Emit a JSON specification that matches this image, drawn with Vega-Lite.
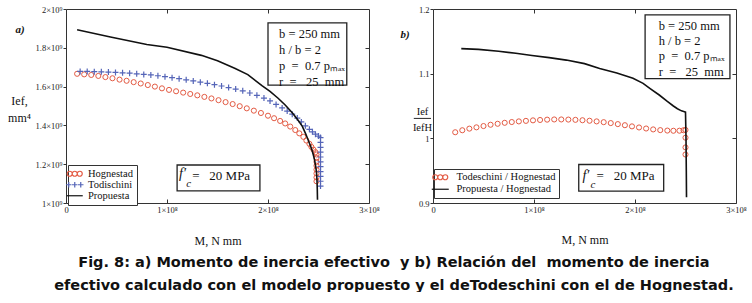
{
  "$schema": "https://vega.github.io/schema/vega-lite/v6.json",
  "background": "white",
  "padding": {"left": 7, "top": 4, "right": 0, "bottom": 0},
  "bounds": "flush",
  "spacing": 64,
  "config": {
    "view": {"stroke": "#333", "strokeWidth": 1},
    "font": "Liberation Serif",
    "axis": {"grid": false, "domain": false, "labelFont": "Liberation Serif", "labelFontSize": 8.5, "labelColor": "#222", "tickColor": "#333", "labelFlush": false, "labelOverlap": false, "titleFont": "Liberation Serif", "titleFontWeight": "normal", "titleFontSize": 12, "titleColor": "#111"},
    "legend": {"labelFont": "Liberation Serif", "labelFontSize": 10.5, "labelColor": "#111"}
  },
  "title": {
    "text": ["Fig. 8: a) Momento de inercia efectivo\u00a0 y b) Relación del\u00a0 momento de inercia", "efectivo calculado con el modelo propuesto y el deTodeschini con el de Hognestad."],
    "orient": "bottom", "anchor": "middle", "font": "DejaVu Sans", "fontSize": 14.5, "fontWeight": "bold", "lineHeight": 23, "offset": 9, "dx": 17, "color": "#111"
  },
  "resolve": {"scale": {"color": "independent", "shape": "independent"}, "legend": {"color": "independent", "shape": "independent"}},
  "datasets": {
    "left": [
      {"series": "Hognestad", "M": 0.11e8, "I": 1.666e9},
      {"series": "Hognestad", "M": 0.18e8, "I": 1.663e9},
      {"series": "Hognestad", "M": 0.25e8, "I": 1.660e9},
      {"series": "Hognestad", "M": 0.32e8, "I": 1.655e9},
      {"series": "Hognestad", "M": 0.39e8, "I": 1.649e9},
      {"series": "Hognestad", "M": 0.46e8, "I": 1.643e9},
      {"series": "Hognestad", "M": 0.53e8, "I": 1.636e9},
      {"series": "Hognestad", "M": 0.60e8, "I": 1.630e9},
      {"series": "Hognestad", "M": 0.67e8, "I": 1.623e9},
      {"series": "Hognestad", "M": 0.74e8, "I": 1.616e9},
      {"series": "Hognestad", "M": 0.81e8, "I": 1.608e9},
      {"series": "Hognestad", "M": 0.88e8, "I": 1.600e9},
      {"series": "Hognestad", "M": 0.95e8, "I": 1.591e9},
      {"series": "Hognestad", "M": 1.02e8, "I": 1.583e9},
      {"series": "Hognestad", "M": 1.09e8, "I": 1.576e9},
      {"series": "Hognestad", "M": 1.16e8, "I": 1.569e9},
      {"series": "Hognestad", "M": 1.23e8, "I": 1.562e9},
      {"series": "Hognestad", "M": 1.30e8, "I": 1.555e9},
      {"series": "Hognestad", "M": 1.37e8, "I": 1.547e9},
      {"series": "Hognestad", "M": 1.44e8, "I": 1.539e9},
      {"series": "Hognestad", "M": 1.51e8, "I": 1.530e9},
      {"series": "Hognestad", "M": 1.58e8, "I": 1.520e9},
      {"series": "Hognestad", "M": 1.65e8, "I": 1.510e9},
      {"series": "Hognestad", "M": 1.72e8, "I": 1.499e9},
      {"series": "Hognestad", "M": 1.79e8, "I": 1.488e9},
      {"series": "Hognestad", "M": 1.86e8, "I": 1.476e9},
      {"series": "Hognestad", "M": 1.93e8, "I": 1.464e9},
      {"series": "Hognestad", "M": 2.00e8, "I": 1.450e9},
      {"series": "Hognestad", "M": 2.06e8, "I": 1.437e9},
      {"series": "Hognestad", "M": 2.12e8, "I": 1.423e9},
      {"series": "Hognestad", "M": 2.17e8, "I": 1.410e9},
      {"series": "Hognestad", "M": 2.22e8, "I": 1.394e9},
      {"series": "Hognestad", "M": 2.27e8, "I": 1.376e9},
      {"series": "Hognestad", "M": 2.31e8, "I": 1.359e9},
      {"series": "Hognestad", "M": 2.35e8, "I": 1.341e9},
      {"series": "Hognestad", "M": 2.38e8, "I": 1.322e9},
      {"series": "Hognestad", "M": 2.41e8, "I": 1.305e9},
      {"series": "Hognestad", "M": 2.43e8, "I": 1.289e9},
      {"series": "Hognestad", "M": 2.45e8, "I": 1.275e9},
      {"series": "Hognestad", "M": 2.47e8, "I": 1.262e9},
      {"series": "Hognestad", "M": 2.48e8, "I": 1.250e9},
      {"series": "Hognestad", "M": 2.48e8, "I": 1.232e9},
      {"series": "Hognestad", "M": 2.48e8, "I": 1.212e9},
      {"series": "Hognestad", "M": 2.48e8, "I": 1.192e9},
      {"series": "Hognestad", "M": 2.48e8, "I": 1.172e9},
      {"series": "Hognestad", "M": 2.48e8, "I": 1.152e9},
      {"series": "Hognestad", "M": 2.48e8, "I": 1.132e9},
      {"series": "Hognestad", "M": 2.48e8, "I": 1.112e9},
      {"series": "Todischini", "M": 0.14e8, "I": 1.678e9},
      {"series": "Todischini", "M": 0.21e8, "I": 1.678e9},
      {"series": "Todischini", "M": 0.28e8, "I": 1.677e9},
      {"series": "Todischini", "M": 0.35e8, "I": 1.676e9},
      {"series": "Todischini", "M": 0.42e8, "I": 1.675e9},
      {"series": "Todischini", "M": 0.49e8, "I": 1.673e9},
      {"series": "Todischini", "M": 0.56e8, "I": 1.671e9},
      {"series": "Todischini", "M": 0.63e8, "I": 1.669e9},
      {"series": "Todischini", "M": 0.70e8, "I": 1.666e9},
      {"series": "Todischini", "M": 0.77e8, "I": 1.663e9},
      {"series": "Todischini", "M": 0.84e8, "I": 1.660e9},
      {"series": "Todischini", "M": 0.91e8, "I": 1.656e9},
      {"series": "Todischini", "M": 0.98e8, "I": 1.651e9},
      {"series": "Todischini", "M": 1.05e8, "I": 1.646e9},
      {"series": "Todischini", "M": 1.12e8, "I": 1.641e9},
      {"series": "Todischini", "M": 1.19e8, "I": 1.635e9},
      {"series": "Todischini", "M": 1.26e8, "I": 1.629e9},
      {"series": "Todischini", "M": 1.33e8, "I": 1.623e9},
      {"series": "Todischini", "M": 1.40e8, "I": 1.617e9},
      {"series": "Todischini", "M": 1.47e8, "I": 1.610e9},
      {"series": "Todischini", "M": 1.54e8, "I": 1.603e9},
      {"series": "Todischini", "M": 1.61e8, "I": 1.595e9},
      {"series": "Todischini", "M": 1.68e8, "I": 1.587e9},
      {"series": "Todischini", "M": 1.75e8, "I": 1.578e9},
      {"series": "Todischini", "M": 1.82e8, "I": 1.567e9},
      {"series": "Todischini", "M": 1.89e8, "I": 1.555e9},
      {"series": "Todischini", "M": 1.96e8, "I": 1.541e9},
      {"series": "Todischini", "M": 2.02e8, "I": 1.526e9},
      {"series": "Todischini", "M": 2.08e8, "I": 1.508e9},
      {"series": "Todischini", "M": 2.14e8, "I": 1.490e9},
      {"series": "Todischini", "M": 2.19e8, "I": 1.474e9},
      {"series": "Todischini", "M": 2.24e8, "I": 1.458e9},
      {"series": "Todischini", "M": 2.29e8, "I": 1.438e9},
      {"series": "Todischini", "M": 2.33e8, "I": 1.418e9},
      {"series": "Todischini", "M": 2.37e8, "I": 1.398e9},
      {"series": "Todischini", "M": 2.41e8, "I": 1.380e9},
      {"series": "Todischini", "M": 2.44e8, "I": 1.367e9},
      {"series": "Todischini", "M": 2.47e8, "I": 1.355e9},
      {"series": "Todischini", "M": 2.50e8, "I": 1.345e9},
      {"series": "Todischini", "M": 2.52e8, "I": 1.337e9},
      {"series": "Todischini", "M": 2.52e8, "I": 1.312e9},
      {"series": "Todischini", "M": 2.52e8, "I": 1.287e9},
      {"series": "Todischini", "M": 2.52e8, "I": 1.262e9},
      {"series": "Todischini", "M": 2.52e8, "I": 1.237e9},
      {"series": "Todischini", "M": 2.52e8, "I": 1.212e9},
      {"series": "Todischini", "M": 2.52e8, "I": 1.187e9},
      {"series": "Todischini", "M": 2.52e8, "I": 1.162e9},
      {"series": "Todischini", "M": 2.52e8, "I": 1.137e9},
      {"series": "Todischini", "M": 2.52e8, "I": 1.112e9},
      {"series": "Todischini", "M": 2.52e8, "I": 1.087e9},
      {"series": "Propuesta", "M": 0.11e8, "I": 1.893e9},
      {"series": "Propuesta", "M": 0.44e8, "I": 1.856e9},
      {"series": "Propuesta", "M": 0.80e8, "I": 1.817e9},
      {"series": "Propuesta", "M": 1.00e8, "I": 1.803e9},
      {"series": "Propuesta", "M": 1.34e8, "I": 1.761e9},
      {"series": "Propuesta", "M": 1.50e8, "I": 1.733e9},
      {"series": "Propuesta", "M": 1.67e8, "I": 1.695e9},
      {"series": "Propuesta", "M": 1.80e8, "I": 1.662e9},
      {"series": "Propuesta", "M": 1.94e8, "I": 1.605e9},
      {"series": "Propuesta", "M": 2.02e8, "I": 1.575e9},
      {"series": "Propuesta", "M": 2.10e8, "I": 1.540e9},
      {"series": "Propuesta", "M": 2.17e8, "I": 1.505e9},
      {"series": "Propuesta", "M": 2.24e8, "I": 1.465e9},
      {"series": "Propuesta", "M": 2.30e8, "I": 1.425e9},
      {"series": "Propuesta", "M": 2.34e8, "I": 1.395e9},
      {"series": "Propuesta", "M": 2.37e8, "I": 1.360e9},
      {"series": "Propuesta", "M": 2.39e8, "I": 1.335e9},
      {"series": "Propuesta", "M": 2.42e8, "I": 1.295e9},
      {"series": "Propuesta", "M": 2.44e8, "I": 1.265e9},
      {"series": "Propuesta", "M": 2.46e8, "I": 1.225e9},
      {"series": "Propuesta", "M": 2.47e8, "I": 1.195e9},
      {"series": "Propuesta", "M": 2.48e8, "I": 1.160e9},
      {"series": "Propuesta", "M": 2.485e8, "I": 1.120e9},
      {"series": "Propuesta", "M": 2.488e8, "I": 1.070e9},
      {"series": "Propuesta", "M": 2.49e8, "I": 1.017e9}
    ],
    "right": [
      {"series": "Todeschini / Hognestad", "M": 0.22e8, "R": 1.0094},
      {"series": "Todeschini / Hognestad", "M": 0.29e8, "R": 1.0125},
      {"series": "Todeschini / Hognestad", "M": 0.36e8, "R": 1.015},
      {"series": "Todeschini / Hognestad", "M": 0.43e8, "R": 1.017},
      {"series": "Todeschini / Hognestad", "M": 0.50e8, "R": 1.019},
      {"series": "Todeschini / Hognestad", "M": 0.57e8, "R": 1.021},
      {"series": "Todeschini / Hognestad", "M": 0.64e8, "R": 1.0225},
      {"series": "Todeschini / Hognestad", "M": 0.71e8, "R": 1.024},
      {"series": "Todeschini / Hognestad", "M": 0.78e8, "R": 1.0252},
      {"series": "Todeschini / Hognestad", "M": 0.85e8, "R": 1.0262},
      {"series": "Todeschini / Hognestad", "M": 0.92e8, "R": 1.027},
      {"series": "Todeschini / Hognestad", "M": 0.99e8, "R": 1.0278},
      {"series": "Todeschini / Hognestad", "M": 1.06e8, "R": 1.0284},
      {"series": "Todeschini / Hognestad", "M": 1.13e8, "R": 1.0289},
      {"series": "Todeschini / Hognestad", "M": 1.20e8, "R": 1.0292},
      {"series": "Todeschini / Hognestad", "M": 1.27e8, "R": 1.0292},
      {"series": "Todeschini / Hognestad", "M": 1.34e8, "R": 1.029},
      {"series": "Todeschini / Hognestad", "M": 1.41e8, "R": 1.0286},
      {"series": "Todeschini / Hognestad", "M": 1.48e8, "R": 1.028},
      {"series": "Todeschini / Hognestad", "M": 1.55e8, "R": 1.0272},
      {"series": "Todeschini / Hognestad", "M": 1.62e8, "R": 1.0262},
      {"series": "Todeschini / Hognestad", "M": 1.69e8, "R": 1.025},
      {"series": "Todeschini / Hognestad", "M": 1.76e8, "R": 1.0236},
      {"series": "Todeschini / Hognestad", "M": 1.83e8, "R": 1.022},
      {"series": "Todeschini / Hognestad", "M": 1.90e8, "R": 1.0203},
      {"series": "Todeschini / Hognestad", "M": 1.97e8, "R": 1.0185},
      {"series": "Todeschini / Hognestad", "M": 2.04e8, "R": 1.0168},
      {"series": "Todeschini / Hognestad", "M": 2.11e8, "R": 1.0152},
      {"series": "Todeschini / Hognestad", "M": 2.18e8, "R": 1.0138},
      {"series": "Todeschini / Hognestad", "M": 2.25e8, "R": 1.0127},
      {"series": "Todeschini / Hognestad", "M": 2.32e8, "R": 1.012},
      {"series": "Todeschini / Hognestad", "M": 2.38e8, "R": 1.0117},
      {"series": "Todeschini / Hognestad", "M": 2.44e8, "R": 1.0118},
      {"series": "Todeschini / Hognestad", "M": 2.48e8, "R": 1.0125},
      {"series": "Todeschini / Hognestad", "M": 2.50e8, "R": 1.013},
      {"series": "Todeschini / Hognestad", "M": 2.50e8, "R": 1.001},
      {"series": "Todeschini / Hognestad", "M": 2.50e8, "R": 0.986},
      {"series": "Todeschini / Hognestad", "M": 2.50e8, "R": 0.975},
      {"series": "Propuesta / Hognestad", "M": 0.28e8, "R": 1.1387},
      {"series": "Propuesta / Hognestad", "M": 0.45e8, "R": 1.1375},
      {"series": "Propuesta / Hognestad", "M": 0.65e8, "R": 1.1346},
      {"series": "Propuesta / Hognestad", "M": 0.82e8, "R": 1.1315},
      {"series": "Propuesta / Hognestad", "M": 0.98e8, "R": 1.128},
      {"series": "Propuesta / Hognestad", "M": 1.15e8, "R": 1.1248},
      {"series": "Propuesta / Hognestad", "M": 1.32e8, "R": 1.121},
      {"series": "Propuesta / Hognestad", "M": 1.50e8, "R": 1.1155},
      {"series": "Propuesta / Hognestad", "M": 1.65e8, "R": 1.108},
      {"series": "Propuesta / Hognestad", "M": 1.82e8, "R": 1.101},
      {"series": "Propuesta / Hognestad", "M": 1.98e8, "R": 1.093},
      {"series": "Propuesta / Hognestad", "M": 2.08e8, "R": 1.085},
      {"series": "Propuesta / Hognestad", "M": 2.15e8, "R": 1.077},
      {"series": "Propuesta / Hognestad", "M": 2.24e8, "R": 1.067},
      {"series": "Propuesta / Hognestad", "M": 2.32e8, "R": 1.057},
      {"series": "Propuesta / Hognestad", "M": 2.38e8, "R": 1.050},
      {"series": "Propuesta / Hognestad", "M": 2.42e8, "R": 1.0457},
      {"series": "Propuesta / Hognestad", "M": 2.46e8, "R": 1.0425},
      {"series": "Propuesta / Hognestad", "M": 2.49e8, "R": 1.041},
      {"series": "Propuesta / Hognestad", "M": 2.50e8, "R": 1.0405},
      {"series": "Propuesta / Hognestad", "M": 2.505e8, "R": 1.00},
      {"series": "Propuesta / Hognestad", "M": 2.508e8, "R": 0.95},
      {"series": "Propuesta / Hognestad", "M": 2.51e8, "R": 0.909}
    ]
  },
  "hconcat": [
    {
      "width": 303,
      "height": 194,
      "data": {"name": "left"},
      "resolve": {"axis": {"x": "independent", "y": "independent"}},
      "layer": [
        {
          "transform": [{"filter": "datum.series == 'Hognestad'"}],
          "mark": {"type": "point", "shape": "circle", "filled": false, "color": "#e35b44", "strokeWidth": 1, "size": 26, "opacity": 1},
          "encoding": {
            "x": {"field": "M", "type": "quantitative", "scale": {"domain": [0, 3e8], "nice": false, "zero": false},
              "axis": {"orient": "bottom", "values": [0, 1e8, 2e8, 3e8], "labelExpr": "datum.value == 0 ? '0' : format(datum.value/1e8,'~g') + '×10⁸'", "tickSize": -4, "labelPadding": 6, "title": "M, N mm", "titleY": 37, "titleBaseline": "middle"}},
            "y": {"field": "I", "type": "quantitative", "scale": {"domain": [1e9, 2e9], "nice": false, "zero": false},
              "axis": {"orient": "left", "values": [1e9, 1.2e9, 1.4e9, 1.6e9, 1.8e9, 2e9], "labelExpr": "format(datum.value/1e9,'~g') + '×10⁹'", "tickSize": 3, "labelPadding": 1, "title": ["Ief,", "mm⁴"], "titleAngle": 0, "titleAlign": "center", "titleBaseline": "top", "titleX": -47, "titleY": 86, "titleLineHeight": 17}}
          }
        },
        {
          "transform": [{"filter": "datum.series == 'Todischini'"}],
          "mark": {"type": "point", "shape": "M-1,0H1M0,-1V1", "filled": false, "color": "#5565b8", "strokeWidth": 1.2, "size": 36, "opacity": 1},
          "encoding": {
            "x": {"field": "M", "type": "quantitative", "axis": {"orient": "top", "values": [1e8, 2e8], "labels": false, "tickSize": -4, "title": null}},
            "y": {"field": "I", "type": "quantitative", "axis": {"orient": "right", "values": [1.2e9, 1.4e9, 1.6e9, 1.8e9], "labels": false, "tickSize": -4, "title": null}}
          }
        },
        {
          "transform": [{"filter": "datum.series == 'Propuesta'"}],
          "mark": {"type": "line", "color": "#111", "strokeWidth": 1.6},
          "encoding": {
            "x": {"field": "M", "type": "quantitative", "axis": null},
            "y": {"field": "I", "type": "quantitative", "axis": null}
          }
        },
        {
          "transform": [{"filter": "false"}],
          "mark": {"type": "point", "filled": false, "strokeWidth": 1, "opacity": 1},
          "encoding": {
            "color": {"field": "series", "type": "nominal",
              "scale": {"domain": ["Hognestad", "Todischini", "Propuesta"], "range": ["#e35b44", "#5565b8", "#111111"]},
              "legend": {"title": null, "orient": "none", "legendX": 2, "legendY": 156, "strokeColor": "#333", "fillColor": "white", "padding": 3.5, "rowPadding": 0, "symbolSize": 25, "symbolStrokeWidth": 1.2, "symbolOffset": -2, "labelOffset": 8}},
            "shape": {"field": "series", "type": "nominal",
              "scale": {"domain": ["Hognestad", "Todischini", "Propuesta"], "range": [
                "M-1,0C-1,0.552 -1.448,1 -2,1C-2.552,1 -3,0.552 -3,0C-3,-0.552 -2.552,-1 -2,-1C-1.448,-1 -1,-0.552 -1,0ZM1,0C1,0.552 0.552,1 0,1C-0.552,1 -1,0.552 -1,0C-1,-0.552 -0.552,-1 0,-1C0.552,-1 1,-0.552 1,0ZM3,0C3,0.552 2.552,1 2,1C1.448,1 1,0.552 1,0C1,-0.552 1.448,-1 2,-1C2.552,-1 3,-0.552 3,0Z",
                "M-3.5,0H-1.3M-2.4,-1.1V1.1M-1.1,0H1.1M0,-1.1V1.1M1.3,0H3.5M2.4,-1.1V1.1",
                "M-3.2,0H3.2"]},
              "legend": {"title": null, "orient": "none", "legendX": 2, "legendY": 156, "strokeColor": "#333", "fillColor": "white", "padding": 3.5, "rowPadding": 0, "symbolSize": 25, "symbolStrokeWidth": 1.2, "symbolOffset": -2, "labelOffset": 8}}
          }
        },
        {
          "data": {"values": [{}]},
          "mark": {"type": "rect", "fill": "white", "stroke": "#222", "strokeWidth": 1.3},
          "encoding": {
            "x": {"datum": 2.0e8, "type": "quantitative", "axis": null},
            "x2": {"datum": 2.78e8},
            "y": {"datum": 1.928e9, "type": "quantitative", "axis": null},
            "y2": {"datum": 1.608e9}
          }
        },
        {
          "data": {"values": [{}]},
          "mark": {"type": "text", "align": "left", "baseline": "top", "font": "Liberation Serif", "fontSize": 12.5, "lineHeight": 16, "color": "#111",
            "text": ["b = 250 mm", "\u00a0h / b = 2", "\u00a0p\u00a0 =\u00a0 0.7 pₘₐₓ", "\u00a0r\u00a0 =\u00a0\u00a0 25\u00a0 mm"]},
          "encoding": {
            "x": {"datum": 2.11e8, "type": "quantitative", "axis": null},
            "y": {"datum": 1.902e9, "type": "quantitative", "axis": null}
          }
        },
        {
          "data": {"values": [{}]},
          "mark": {"type": "rect", "fill": "white", "stroke": "#222", "strokeWidth": 1.3},
          "encoding": {
            "x": {"datum": 1.10e8, "type": "quantitative", "axis": null},
            "x2": {"datum": 1.92e8},
            "y": {"datum": 1.196e9, "type": "quantitative", "axis": null},
            "y2": {"datum": 1.062e9}
          }
        },
        {
          "data": {"values": [{}]},
          "mark": {"type": "text", "align": "left", "baseline": "middle", "font": "Liberation Serif", "fontSize": 14, "fontStyle": "italic", "color": "#111", "text": "f′"},
          "encoding": {
            "x": {"datum": 1.12e8, "type": "quantitative", "axis": null},
            "y": {"datum": 1.149e9, "type": "quantitative", "axis": null}
          }
        },
        {
          "data": {"values": [{}]},
          "mark": {"type": "text", "align": "left", "baseline": "middle", "font": "Liberation Serif", "fontSize": 11, "fontStyle": "italic", "color": "#111", "text": "c"},
          "encoding": {
            "x": {"datum": 1.19e8, "type": "quantitative", "axis": null},
            "y": {"datum": 1.098e9, "type": "quantitative", "axis": null}
          }
        },
        {
          "data": {"values": [{}]},
          "mark": {"type": "text", "align": "left", "baseline": "middle", "font": "Liberation Serif", "fontSize": 13, "color": "#111", "text": "=\u00a0\u00a0 20 MPa"},
          "encoding": {
            "x": {"datum": 1.25e8, "type": "quantitative", "axis": null},
            "y": {"datum": 1.139e9, "type": "quantitative", "axis": null}
          }
        },
        {
          "data": {"values": [{}]},
          "mark": {"type": "text", "align": "center", "baseline": "middle", "font": "Liberation Serif", "fontSize": 11, "fontStyle": "italic", "fontWeight": "bold", "color": "#111", "text": "a)"},
          "encoding": {
            "x": {"datum": -0.455e8, "type": "quantitative", "axis": null},
            "y": {"datum": 1.892e9, "type": "quantitative", "axis": null}
          }
        }
      ]
    },
    {
      "width": 303,
      "height": 194,
      "data": {"name": "right"},
      "resolve": {"axis": {"x": "independent", "y": "independent"}},
      "layer": [
        {
          "transform": [{"filter": "datum.series == 'Todeschini / Hognestad'"}],
          "mark": {"type": "point", "shape": "circle", "filled": false, "color": "#e35b44", "strokeWidth": 1, "size": 26, "opacity": 1},
          "encoding": {
            "x": {"field": "M", "type": "quantitative", "scale": {"domain": [0, 3e8], "nice": false, "zero": false},
              "axis": {"orient": "bottom", "values": [0, 1e8, 2e8, 3e8], "labelExpr": "datum.value == 0 ? '0' : format(datum.value/1e8,'~g') + '×10⁸'", "tickSize": -4, "labelPadding": 6, "title": "M, N mm", "titleY": 36, "titleBaseline": "middle"}},
            "y": {"field": "R", "type": "quantitative", "scale": {"domain": [0.9, 1.2], "nice": false, "zero": false},
              "axis": {"orient": "left", "values": [0.9, 1, 1.1, 1.2], "format": "~g", "tickSize": 3, "labelPadding": 1, "title": ["Ief", "IefH"], "titleAngle": 0, "titleAlign": "center", "titleBaseline": "top", "titleX": -11, "titleY": 97, "titleLineHeight": 16, "titleFontSize": 10.5}}
          }
        },
        {
          "transform": [{"filter": "datum.series == 'Propuesta / Hognestad'"}],
          "mark": {"type": "line", "color": "#111", "strokeWidth": 1.6},
          "encoding": {
            "x": {"field": "M", "type": "quantitative", "axis": {"orient": "top", "values": [1e8, 2e8], "labels": false, "tickSize": -4, "title": null}},
            "y": {"field": "R", "type": "quantitative", "axis": {"orient": "right", "values": [1, 1.1], "labels": false, "tickSize": -4, "title": null}}
          }
        },
        {
          "transform": [{"filter": "false"}],
          "mark": {"type": "point", "filled": false, "strokeWidth": 1, "opacity": 1},
          "encoding": {
            "color": {"field": "series", "type": "nominal",
              "scale": {"domain": ["Todeschini / Hognestad", "Propuesta / Hognestad"], "range": ["#e35b44", "#111111"]},
              "legend": {"title": null, "orient": "none", "legendX": 1, "legendY": 160, "strokeColor": "#333", "fillColor": "white", "padding": 3, "rowPadding": 1, "symbolSize": 25, "symbolStrokeWidth": 1.2, "symbolOffset": -2, "labelOffset": 11}},
            "shape": {"field": "series", "type": "nominal",
              "scale": {"domain": ["Todeschini / Hognestad", "Propuesta / Hognestad"], "range": [
                "M-1,0C-1,0.552 -1.448,1 -2,1C-2.552,1 -3,0.552 -3,0C-3,-0.552 -2.552,-1 -2,-1C-1.448,-1 -1,-0.552 -1,0ZM1,0C1,0.552 0.552,1 0,1C-0.552,1 -1,0.552 -1,0C-1,-0.552 -0.552,-1 0,-1C0.552,-1 1,-0.552 1,0ZM3,0C3,0.552 2.552,1 2,1C1.448,1 1,0.552 1,0C1,-0.552 1.448,-1 2,-1C2.552,-1 3,-0.552 3,0Z",
                "M-3.4,0H3.4"]},
              "legend": {"title": null, "orient": "none", "legendX": 1, "legendY": 160, "strokeColor": "#333", "fillColor": "white", "padding": 3, "rowPadding": 1, "symbolSize": 25, "symbolStrokeWidth": 1.2, "symbolOffset": -2, "labelOffset": 11}}
          }
        },
        {
          "data": {"values": [{}]},
          "mark": {"type": "rule", "stroke": "#111", "strokeWidth": 0.9},
          "encoding": {
            "x": {"datum": -0.19e8, "type": "quantitative", "axis": null},
            "x2": {"datum": -0.02e8},
            "y": {"datum": 1.0308, "type": "quantitative", "axis": null}
          }
        },
        {
          "data": {"values": [{}]},
          "mark": {"type": "rect", "fill": "white", "stroke": "#222", "strokeWidth": 1.3},
          "encoding": {
            "x": {"datum": 2.1e8, "type": "quantitative", "axis": null},
            "x2": {"datum": 2.94e8},
            "y": {"datum": 1.1908, "type": "quantitative", "axis": null},
            "y2": {"datum": 1.0923}
          }
        },
        {
          "data": {"values": [{}]},
          "mark": {"type": "text", "align": "left", "baseline": "top", "font": "Liberation Serif", "fontSize": 12.5, "lineHeight": 15.3, "color": "#111",
            "text": ["b = 250 mm", "\u00a0h / b = 2", "\u00a0p\u00a0 =\u00a0 0.7 pₘₐₓ", "\u00a0r\u00a0 =\u00a0\u00a0 25\u00a0 mm"]},
          "encoding": {
            "x": {"datum": 2.235e8, "type": "quantitative", "axis": null},
            "y": {"datum": 1.1835, "type": "quantitative", "axis": null}
          }
        },
        {
          "data": {"values": [{}]},
          "mark": {"type": "rect", "fill": "white", "stroke": "#222", "strokeWidth": 1.3},
          "encoding": {
            "x": {"datum": 1.443e8, "type": "quantitative", "axis": null},
            "x2": {"datum": 2.284e8},
            "y": {"datum": 0.9595, "type": "quantitative", "axis": null},
            "y2": {"datum": 0.9185}
          }
        },
        {
          "data": {"values": [{}]},
          "mark": {"type": "text", "align": "left", "baseline": "middle", "font": "Liberation Serif", "fontSize": 14, "fontStyle": "italic", "color": "#111", "text": "f′"},
          "encoding": {
            "x": {"datum": 1.48e8, "type": "quantitative", "axis": null},
            "y": {"datum": 0.9415, "type": "quantitative", "axis": null}
          }
        },
        {
          "data": {"values": [{}]},
          "mark": {"type": "text", "align": "left", "baseline": "middle", "font": "Liberation Serif", "fontSize": 11, "fontStyle": "italic", "color": "#111", "text": "c"},
          "encoding": {
            "x": {"datum": 1.56e8, "type": "quantitative", "axis": null},
            "y": {"datum": 0.9277, "type": "quantitative", "axis": null}
          }
        },
        {
          "data": {"values": [{}]},
          "mark": {"type": "text", "align": "left", "baseline": "middle", "font": "Liberation Serif", "fontSize": 13, "color": "#111", "text": "=\u00a0\u00a0 20 MPa"},
          "encoding": {
            "x": {"datum": 1.62e8, "type": "quantitative", "axis": null},
            "y": {"datum": 0.9415, "type": "quantitative", "axis": null}
          }
        },
        {
          "data": {"values": [{}]},
          "mark": {"type": "text", "align": "center", "baseline": "middle", "font": "Liberation Serif", "fontSize": 11, "fontStyle": "italic", "fontWeight": "bold", "color": "#111", "text": "b)"},
          "encoding": {
            "x": {"datum": -0.277e8, "type": "quantitative", "axis": null},
            "y": {"datum": 1.16, "type": "quantitative", "axis": null}
          }
        }
      ]
    }
  ]
}
